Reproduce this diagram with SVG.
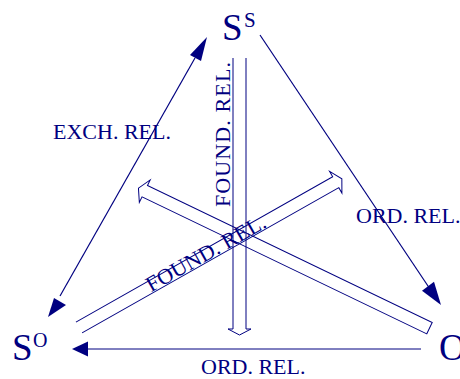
<svg xmlns="http://www.w3.org/2000/svg" width="460" height="379" viewBox="0 0 460 379">
<style>
.t{font-family:"Liberation Serif","Times New Roman",serif;fill:#000080}
.l{fill:none;stroke:#000080;stroke-width:1}
.lt{fill:none;stroke:#000080;stroke-width:1.2}
.h{fill:#000080;stroke:none}
</style>
<rect width="460" height="379" fill="#fff"/>
<g id="node-SS">
<text class="t" x="222" y="40" font-size="37">S</text>
<text class="t" x="244" y="27" font-size="21">S</text>
</g>
<g id="node-SO">
<text class="t" x="12" y="360" font-size="37">S</text>
<text class="t" x="33" y="347" font-size="20">O</text>
</g>
<g id="node-O">
<text class="t" x="439" y="360" font-size="37">O</text>
</g>
<g id="connectors">
<line class="lt" x1="60" y1="296" x2="195" y2="58"/>
<polygon class="h" points="207,37 190,55 201,61"/>
<polygon class="h" points="48,317 54,298 66,305"/>
<line class="lt" x1="260" y1="35" x2="430" y2="289"/>
<polygon class="h" points="441,305 422,290.7 434,281.7"/>
<line class="l" x1="421" y1="349" x2="86" y2="349"/>
<polygon class="h" points="72,349 88,341.5 88,356.5"/>
<path class="l" d="M233,58 V329 H228 L239.5,335 L251,329 H246 V58"/>
<g transform="translate(79,327.5) rotate(-29.5)">
<path class="l" d="M0,-6.25 H295 V-12.5 L302,0 L295,12.5 V6.25 H0"/>
<text class="t" x="80" y="5" font-size="22" textLength="134">FOUND. REL.</text>
</g>
<g transform="translate(429.5,328.2) rotate(205.7)">
<path class="l" d="M0,-6.25 H316 V-12.5 L323,0 L316,12.5 V6.25 H0 Z"/>
</g>
<text class="t" transform="translate(230,207) rotate(-90)" x="0" y="0" font-size="22" textLength="145">FOUND. REL.</text>
<text class="t" x="53" y="139" font-size="22">EXCH. REL.</text>
<text class="t" x="356" y="223" font-size="22">ORD. REL.</text>
<text class="t" x="201" y="374" font-size="22">ORD. REL.</text>
</g>
</svg>
